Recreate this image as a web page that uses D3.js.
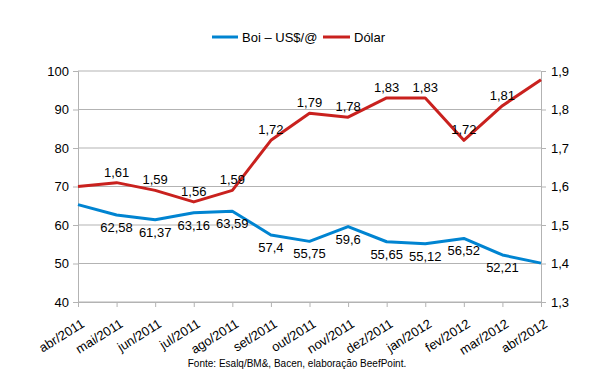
<!DOCTYPE html>
<html>
<head>
<meta charset="utf-8">
<style>
  body { margin: 0; background: #fff; }
  text { font-family: "Liberation Sans", Arial, sans-serif; fill: #000; }
</style>
</head>
<body>
<svg width="594" height="378"></svg>
<script src="https://d3js.org/d3.v7.min.js"></script>
<script>

var months = ["abr/2011", "mai/2011", "jun/2011", "jul/2011", "ago/2011", "set/2011", "out/2011",
              "nov/2011", "dez/2011", "jan/2012", "fev/2012", "mar/2012", "abr/2012"];
// Boi – US$/@ (first and last points have no label)
var boi = [65.3, 62.58, 61.37, 63.16, 63.59, 57.4, 55.75, 59.6, 55.65, 55.12, 56.52, 52.21, 50.1];
var boiLabelled = [false, true, true, true, true, true, true, true, true, true, true, true, false];
// Dólar
var dolar = [1.60, 1.61, 1.59, 1.56, 1.59, 1.72, 1.79, 1.78, 1.83, 1.83, 1.72, 1.81, 1.877];
var dolarLabelled = [false, true, true, true, true, true, true, true, true, true, true, true, false];
var leftTicks = [40, 50, 60, 70, 80, 90, 100];
var rightTicks = [1.3, 1.4, 1.5, 1.6, 1.7, 1.8, 1.9];

var svg = d3.select("svg"),
    margin = {top: 71, right: 53, bottom: 76, left: 78},
    width = +svg.attr("width") - margin.left - margin.right,
    height = +svg.attr("height") - margin.top - margin.bottom,
    g = svg.append("g").attr("transform", "translate(" + margin.left + "," + margin.top + ")");

var blue = "#0084d1", red = "#c9211e", grid = "#b3b3b3";
var comma = function(v) { return String(v).replace(".", ","); };

var x = d3.scalePoint().domain(months).range([0, width]);
var y = d3.scaleLinear().domain([40, 100]).range([height, 0]);
var y2 = d3.scaleLinear().domain([1.3, 1.9]).range([height, 0]);

// grid
g.append("g")
  .selectAll("line")
  .data(leftTicks)
  .enter().append("line")
    .attr("x1", 0).attr("x2", width)
    .attr("y1", function(d) { return y(d); })
    .attr("y2", function(d) { return y(d); })
    .attr("stroke", grid);

var yAxis = g.append("g")
    .call(d3.axisLeft(y).tickValues(leftTicks).tickSize(5).tickPadding(4));
var y2Axis = g.append("g")
    .attr("transform", "translate(" + width + ",0)")
    .call(d3.axisRight(y2).tickValues(rightTicks).tickSize(5).tickPadding(5).tickFormat(comma));
var xAxis = g.append("g")
    .attr("transform", "translate(0," + height + ")")
    .call(d3.axisBottom(x).tickSize(5));

[yAxis, y2Axis, xAxis].forEach(function(a) {
  a.select(".domain").attr("stroke", grid);
  a.selectAll(".tick line").attr("stroke", grid);
  a.selectAll("text").style("font-size", "13px").attr("fill", "#000");
});

// rotated month labels, ending just under each tick
xAxis.selectAll("text")
    .attr("text-anchor", "end")
    .attr("x", -7)
    .attr("y", 24)
    .attr("dy", 0)
    .attr("transform", "rotate(-32)");

var idx = d3.range(months.length);

var lineBoi = d3.line()
    .x(function(i) { return x(months[i]); })
    .y(function(i) { return y(boi[i]); });
var lineDolar = d3.line()
    .x(function(i) { return x(months[i]); })
    .y(function(i) { return y2(dolar[i]); });

g.append("path").datum(idx)
    .attr("fill", "none").attr("stroke", blue).attr("stroke-width", 3)
    .attr("stroke-linejoin", "round").attr("d", lineBoi);
g.append("path").datum(idx)
    .attr("fill", "none").attr("stroke", red).attr("stroke-width", 3)
    .attr("stroke-linejoin", "round").attr("d", lineDolar);

// value labels
g.append("g").selectAll("text")
  .data(idx.filter(function(i) { return boiLabelled[i]; }))
  .enter().append("text")
    .attr("x", function(i) { return x(months[i]); })
    .attr("y", function(i) { return y(boi[i]) + 17; })
    .attr("text-anchor", "middle")
    .style("font-size", "13px")
    .text(function(i) { return comma(boi[i]); });

g.append("g").selectAll("text")
  .data(idx.filter(function(i) { return dolarLabelled[i]; }))
  .enter().append("text")
    .attr("x", function(i) { return x(months[i]); })
    .attr("y", function(i) { return y2(dolar[i]) - 6; })
    .attr("text-anchor", "middle")
    .style("font-size", "13px")
    .text(function(i) { return comma(dolar[i]); });

// legend
var legend = svg.append("g");
legend.append("line").attr("x1", 212).attr("x2", 238).attr("y1", 37).attr("y2", 37)
    .attr("stroke", blue).attr("stroke-width", 3);
legend.append("text").attr("x", 242).attr("y", 41.5).style("font-size", "13px").text("Boi – US$/@");
legend.append("line").attr("x1", 323).attr("x2", 350).attr("y1", 37).attr("y2", 37)
    .attr("stroke", red).attr("stroke-width", 3);
legend.append("text").attr("x", 354).attr("y", 41.5).style("font-size", "13px").text("Dólar");

svg.append("text")
    .attr("x", 297).attr("y", 367)
    .attr("text-anchor", "middle")
    .style("font-size", "10px")
    .text("Fonte: Esalq/BM&, Bacen, elaboração BeefPoint.");

</script>
</body>
</html>
